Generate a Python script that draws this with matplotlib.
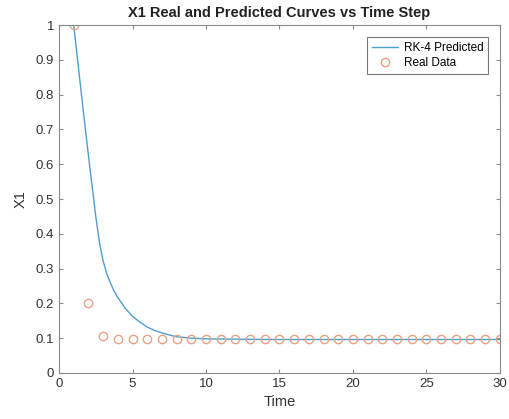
import numpy as np
import matplotlib
matplotlib.use("Agg")
import matplotlib.pyplot as plt

plt.rcParams['font.family'] = ['Liberation Sans', 'DejaVu Sans']

# RK-4 predicted trajectory of X1
t_pred = [1.0, 1.5, 2.0, 2.5, 2.75, 3.0, 3.25, 3.5, 3.75, 4.0, 4.5, 5.0,
          5.5, 6.0, 6.5, 7.0, 7.5, 8.0, 9.0, 10.0, 12.0, 15.0, 20.0, 25.0, 30.0]
x1_pred = [1.0, 0.81, 0.625, 0.45, 0.375, 0.322, 0.285, 0.258, 0.235, 0.217,
           0.186, 0.163, 0.146, 0.132, 0.122, 0.115, 0.109, 0.104, 0.100,
           0.098, 0.097, 0.096, 0.096, 0.096, 0.096]

# measured X1 at each time step
t_real = list(range(1, 31))
x1_real = [1.0, 0.2, 0.107, 0.098, 0.097, 0.097, 0.097, 0.097, 0.097, 0.097,
           0.097, 0.097, 0.097, 0.097, 0.097, 0.097, 0.097, 0.097, 0.097, 0.097,
           0.097, 0.097, 0.097, 0.097, 0.097, 0.097, 0.097, 0.097, 0.097, 0.097]

fig = plt.figure(figsize=(5.09, 4.19), dpi=100)
ax = fig.add_axes([0.116, 0.110, 0.866, 0.830])

ax.plot(t_pred, x1_pred, color='#4d9fd0', lw=1.0, label='RK-4 Predicted')
ax.plot(t_real, x1_real, 'o', mfc='none', mec='#e8a184', ms=6, mew=1.0,
        label='Real Data')

ax.set_xlim(0, 30)
ax.set_ylim(0, 1)
ax.set_xticks(np.arange(0, 31, 5))
ax.set_yticks(np.arange(0, 1.01, 0.1))
ax.set_yticklabels(['0', '0.1', '0.2', '0.3', '0.4', '0.5', '0.6', '0.7',
                    '0.8', '0.9', '1'])

for s in ax.spines.values():
    s.set_color('#8a8a8a')
    s.set_linewidth(0.8)
ax.tick_params(direction='in', top=True, right=True, length=3,
               color='#8a8a8a', labelcolor='#333333', labelsize=9.5)

ax.set_title('X1 Real and Predicted Curves vs Time Step', fontsize=10.5,
             fontweight='bold', color='#222222', pad=6)
ax.set_xlabel('Time', fontsize=10.5, color='#333333', labelpad=4)
ax.set_ylabel('X1', fontsize=10.5, color='#333333', labelpad=6)

leg = ax.legend(loc='upper right', fontsize=8.5, frameon=True, fancybox=False,
                borderaxespad=1.0, handlelength=2.2, handletextpad=0.5,
                borderpad=0.4, labelspacing=0.3)
leg.get_frame().set_edgecolor('#555555')
leg.get_frame().set_linewidth(0.8)

fig.savefig('out.png', dpi=100)
